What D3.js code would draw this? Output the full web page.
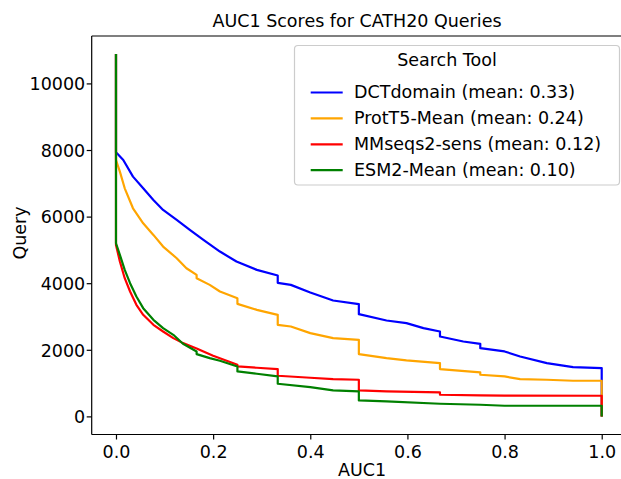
<!DOCTYPE html>
<html>
<head>
<meta charset="utf-8">
<script src="https://cdn.jsdelivr.net/npm/d3@7"></script>
<style>
  html, body { margin: 0; padding: 0; background: #fff; }
  svg { display: block; font-family: "DejaVu Sans", sans-serif; }
</style>
</head>
<body>
<svg id="chart" width="621" height="479"></svg>
<script>
// ---- Data ----
const seriesNames = ["DCTdomain (mean: 0.33)", "ProtT5-Mean (mean: 0.24)", "MMseqs2-sens (mean: 0.12)", "ESM2-Mean (mean: 0.10)"];
const seriesColors = ["#0000ff", "#ffa500", "#ff0000", "#008000"];

const dctAuc   = [0, 0, 0.015, 0.035, 0.056, 0.077, 0.097, 0.125, 0.152, 0.18, 0.214, 0.248, 0.29, 0.333, 0.333, 0.36, 0.4, 0.447, 0.5, 0.5, 0.557, 0.598, 0.633, 0.667, 0.667, 0.715, 0.75, 0.75, 0.8, 0.832, 0.887, 0.941, 1, 1];
const dctQuery = [10880, 7930, 7700, 7200, 6850, 6500, 6200, 5900, 5600, 5300, 4950, 4650, 4400, 4230, 4010, 3950, 3720, 3480, 3370, 3070, 2880, 2800, 2650, 2550, 2400, 2250, 2180, 2050, 1950, 1800, 1600, 1480, 1450, 0];

const t5Auc    = [0, 0, 0.008, 0.018, 0.035, 0.056, 0.077, 0.097, 0.125, 0.145, 0.166, 0.166, 0.193, 0.214, 0.25, 0.25, 0.29, 0.333, 0.333, 0.36, 0.4, 0.447, 0.5, 0.5, 0.557, 0.598, 0.667, 0.667, 0.75, 0.75, 0.8, 0.832, 0.887, 0.941, 1, 1];
const t5Query  = [10880, 7700, 7350, 6850, 6250, 5800, 5450, 5100, 4750, 4450, 4250, 4150, 3950, 3750, 3550, 3380, 3200, 3050, 2750, 2700, 2500, 2350, 2300, 1870, 1750, 1680, 1600, 1420, 1320, 1250, 1200, 1120, 1100, 1070, 1070, 0];

const mmAuc    = [0, 0, 0.008, 0.018, 0.029, 0.042, 0.056, 0.077, 0.097, 0.118, 0.138, 0.166, 0.2, 0.25, 0.25, 0.29, 0.333, 0.333, 0.4, 0.447, 0.5, 0.5, 0.557, 0.667, 0.667, 0.75, 0.8, 1, 1];
const mmQuery  = [10880, 5150, 4650, 4150, 3750, 3350, 3050, 2750, 2550, 2350, 2200, 2040, 1820, 1550, 1500, 1460, 1420, 1220, 1160, 1120, 1100, 780, 750, 720, 650, 630, 625, 620, 0];

const esmAuc   = [0, 0, 0.008, 0.018, 0.029, 0.042, 0.056, 0.077, 0.097, 0.118, 0.138, 0.166, 0.166, 0.193, 0.214, 0.25, 0.25, 0.29, 0.333, 0.333, 0.4, 0.447, 0.5, 0.5, 0.557, 0.667, 0.75, 0.8, 1, 1];
const esmQuery = [10880, 5200, 4850, 4400, 4000, 3600, 3250, 2900, 2650, 2450, 2180, 1950, 1870, 1750, 1670, 1500, 1350, 1280, 1200, 980, 880, 780, 750, 480, 450, 380, 350, 320, 320, 0];

const xTicks = [0, 0.2, 0.4, 0.6, 0.8, 1.0];
const xTickLabels = ["0.0", "0.2", "0.4", "0.6", "0.8", "1.0"];
const yTicks = [0, 2000, 4000, 6000, 8000, 10000];
const yTickLabels = ["0", "2000", "4000", "6000", "8000", "10000"];

const titleText = "AUC1 Scores for CATH20 Queries";
const xLabelText = "AUC1";
const yLabelText = "Query";
const legendTitle = "Search Tool";

// ---- Layout ----
const svg = d3.select("#chart");
const L = 91.7, R = 626, T = 36, B = 434.5;
const FS = 17.5;

const x = d3.scaleLinear().domain([-0.05, 1.05]).range([L, R]);
const y = d3.scaleLinear().domain([-544, 11424]).range([B, T]);

const series = [
  { name: seriesNames[0], color: seriesColors[0], xs: dctAuc, ys: dctQuery },
  { name: seriesNames[1], color: seriesColors[1], xs: t5Auc, ys: t5Query },
  { name: seriesNames[2], color: seriesColors[2], xs: mmAuc, ys: mmQuery },
  { name: seriesNames[3], color: seriesColors[3], xs: esmAuc, ys: esmQuery }
];

svg.append("defs").append("clipPath").attr("id", "clip")
  .append("rect").attr("x", L).attr("y", T).attr("width", R - L).attr("height", B - T);

const line = d3.line().x(d => x(d[0])).y(d => y(d[1]));

const plot = svg.append("g").attr("clip-path", "url(#clip)");
series.forEach(s => {
  const pts = s.xs.map((v, i) => [v, s.ys[i]]);
  plot.append("path")
    .attr("d", line(pts))
    .attr("fill", "none")
    .attr("stroke", s.color)
    .attr("stroke-width", 2.2)
    .attr("stroke-linejoin", "round");
});

// Axes
const xAxis = d3.axisBottom(x).tickValues(xTicks).tickFormat((d, i) => xTickLabels[i]).tickSize(5).tickPadding(6);
const yAxis = d3.axisLeft(y).tickValues(yTicks).tickFormat((d, i) => yTickLabels[i]).tickSize(5).tickPadding(1.5);

const gx = svg.append("g").attr("transform", `translate(0,${B})`).call(xAxis);
const gy = svg.append("g").attr("transform", `translate(${L},0)`).call(yAxis);
[gx, gy].forEach(g => {
  g.select(".domain").remove();
  g.selectAll(".tick line").attr("stroke", "#000").attr("stroke-width", 1.2);
  g.selectAll(".tick text").attr("fill", "#000").style("font-size", FS + "px").style("font-family", "DejaVu Sans");
});
gy.selectAll(".tick text").attr("dy", "0.36em");

// Spines
const spine = svg.append("g").attr("stroke", "#000").attr("stroke-width", 1.2).attr("fill", "none");
spine.append("line").attr("x1", L).attr("x2", L).attr("y1", T).attr("y2", B);
spine.append("line").attr("x1", L).attr("x2", R).attr("y1", B).attr("y2", B);
spine.append("line").attr("x1", L).attr("x2", R).attr("y1", T).attr("y2", T);
spine.append("line").attr("x1", R).attr("x2", R).attr("y1", T).attr("y2", B);

// Title and labels
svg.append("text").attr("x", 357).attr("y", 26.7).attr("text-anchor", "middle")
  .style("font-size", FS + "px").text(titleText);
svg.append("text").attr("x", 362).attr("y", 476).attr("text-anchor", "middle")
  .style("font-size", FS + "px").text(xLabelText);
svg.append("text").attr("transform", "translate(26,233) rotate(-90)").attr("text-anchor", "middle")
  .style("font-size", FS + "px").text(yLabelText);

// Legend
const lg = svg.append("g");
lg.append("rect").attr("x", 294.5).attr("y", 45.5).attr("width", 325).attr("height", 139.5)
  .attr("rx", 3.5).attr("ry", 3.5)
  .attr("fill", "#fff").attr("fill-opacity", 0.8)
  .attr("stroke", "#cccccc").attr("stroke-width", 1.2);
lg.append("text").attr("x", 447).attr("y", 66).attr("text-anchor", "middle")
  .style("font-size", FS + "px").text(legendTitle);
const rowBase = [98.3, 124.2, 150.1, 176];
series.forEach((s, i) => {
  lg.append("line").attr("x1", 310.7).attr("x2", 342.7)
    .attr("y1", rowBase[i] - 5.8).attr("y2", rowBase[i] - 5.8)
    .attr("stroke", s.color).attr("stroke-width", 2.2);
  lg.append("text").attr("x", 354).attr("y", rowBase[i])
    .style("font-size", FS + "px").text(s.name);
});
</script>
</body>
</html>
